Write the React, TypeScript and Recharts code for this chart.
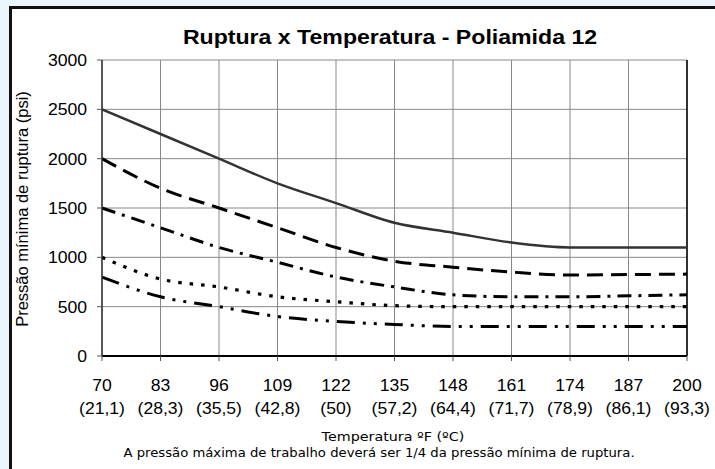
import React from 'react';
import { LineChart, Line, XAxis, YAxis, CartesianGrid, ReferenceLine } from 'recharts';

const fTicks = [70, 83, 96, 109, 122, 135, 148, 161, 174, 187, 200];
const cLabels = ['(21,1)', '(28,3)', '(35,5)', '(42,8)', '(50)', '(57,2)', '(64,4)', '(71,7)', '(78,9)', '(86,1)', '(93,3)'];
const yTicks = [0, 500, 1000, 1500, 2000, 2500, 3000];

const serieA = [2500, 2250, 2000, 1750, 1550, 1350, 1250, 1150, 1100, 1100, 1100];
const serieB = [2000, 1700, 1500, 1300, 1100, 960, 900, 850, 820, 825, 830];
const serieC = [1500, 1300, 1100, 950, 800, 700, 620, 600, 600, 610, 620];
const serieD = [1000, 780, 700, 600, 550, 510, 500, 500, 500, 500, 500];
const serieE = [800, 600, 500, 400, 350, 320, 300, 300, 300, 300, 300];

const data = fTicks.map((f, i) => ({
  f,
  a: serieA[i],
  b: serieB[i],
  c: serieC[i],
  d: serieD[i],
  e: serieE[i],
}));

const SX = 1.1;
const tickFont = 'Arial, "Liberation Sans", sans-serif';
const noteFont = '"DejaVu Sans", Verdana, sans-serif';

const XTick = (props: any) => {
  const { x, y, payload } = props;
  const idx = fTicks.indexOf(payload.value);
  return (
    <g transform={`translate(${x},${y})`}>
      <text transform={`scale(${SX},1)`} textAnchor="middle" fontFamily={tickFont} fontSize={16} fill="#000">
        <tspan x={0} y={28}>{payload.value}</tspan>
        <tspan x={0} y={51}>{cLabels[idx]}</tspan>
      </text>
    </g>
  );
};

const YTick = (props: any) => {
  const { x, y, payload } = props;
  return (
    <g transform={`translate(${x},${y})`}>
      <text transform={`scale(${SX},1)`} x={-8 / SX} y={6} textAnchor="end" fontFamily={tickFont} fontSize={16} fill="#000">
        {payload.value}
      </text>
    </g>
  );
};

const anchor = (left: number, top: number, content: React.ReactNode, style: React.CSSProperties) => (
  <div style={{ position: 'absolute', left, top, width: 0, height: 0 }}>
    <div style={{ position: 'absolute', left: 0, top: 0, whiteSpace: 'nowrap', color: '#000', ...style }}>{content}</div>
  </div>
);

export default function App() {
  return (
    <div style={{ position: 'absolute', left: 0, top: 0, width: 715, height: 469, background: '#eaf5fc', overflow: 'hidden' }}>
      <div style={{ position: 'absolute', left: 9, top: 6, width: 720, height: 480, background: '#fff', borderLeft: '3px solid #111', borderTop: '3px solid #111' }} />
      <div style={{ position: 'absolute', left: 0, top: 0 }}>
        <LineChart width={715} height={469} data={data} margin={{ top: 60, right: 28, left: 42, bottom: 63 }}>
          <CartesianGrid stroke="#888" strokeWidth={1} />
          <XAxis
            dataKey="f"
            type="number"
            domain={[70, 200]}
            ticks={fTicks}
            interval={0}
            height={50}
            tick={<XTick />}
            tickLine={{ stroke: '#555' }}
            tickSize={5}
            axisLine={{ stroke: '#000', strokeWidth: 2 }}
          />
          <YAxis
            type="number"
            domain={[0, 3000]}
            ticks={yTicks}
            width={60}
            tick={<YTick />}
            tickLine={{ stroke: '#555' }}
            tickSize={5}
            axisLine={{ stroke: '#333', strokeWidth: 1.5 }}
          />
          <ReferenceLine x={200} stroke="#000" strokeWidth={1.5} />
          <Line type="monotone" dataKey="a" stroke="#333" strokeWidth={2.5} dot={false} isAnimationActive={false} />
          <Line type="monotone" dataKey="b" stroke="#000" strokeWidth={3} strokeDasharray="16 8" dot={false} isAnimationActive={false} />
          <Line type="monotone" dataKey="c" stroke="#000" strokeWidth={3} strokeDasharray="14 7 3 7" dot={false} isAnimationActive={false} />
          <Line type="monotone" dataKey="d" stroke="#000" strokeWidth={3.2} strokeDasharray="3.5 8" dot={false} isAnimationActive={false} />
          <Line type="monotone" dataKey="e" stroke="#000" strokeWidth={3} strokeDasharray="18 8 3 8 3 8" dot={false} isAnimationActive={false} />
        </LineChart>
      </div>
      {anchor(390, 25, 'Ruptura x Temperatura - Poliamida 12', {
        transform: `translate(-50%, 0) scaleX(${SX})`,
        fontFamily: tickFont,
        fontWeight: 'bold',
        fontSize: 21,
        lineHeight: '24px',
      })}
      {anchor(22, 209, 'Pressão mínima de ruptura (psi)', {
        transform: 'translate(-50%, -50%) rotate(-90deg)',
        fontFamily: tickFont,
        fontSize: 16.5,
      })}
      {anchor(393, 429, 'Temperatura ºF (ºC)', {
        transform: `translate(-50%, 0) scaleX(${SX})`,
        fontFamily: noteFont,
        fontSize: 13,
        lineHeight: '16px',
      })}
      {anchor(379, 445, 'A pressão máxima de trabalho deverá ser 1/4 da pressão mínima de ruptura.', {
        transform: `translate(-50%, 0) scaleX(${SX})`,
        fontFamily: noteFont,
        fontSize: 12,
        lineHeight: '16px',
      })}
    </div>
  );
}
